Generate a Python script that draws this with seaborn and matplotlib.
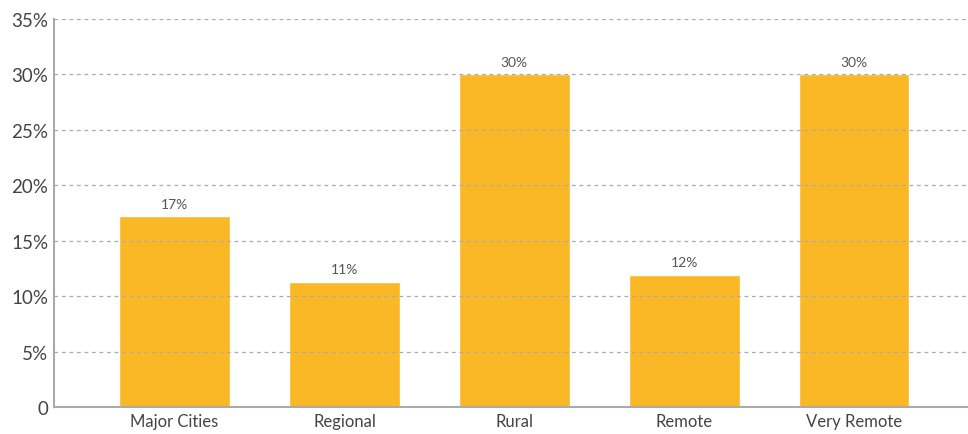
import numpy as np
import pandas as pd
import seaborn as sns
import matplotlib.pyplot as plt
from matplotlib.ticker import FuncFormatter

categories = ["Major Cities", "Regional", "Rural", "Remote", "Very Remote"]
values = [17.2, 11.3, 30.0, 11.9, 30.0]
labels = ["17%", "11%", "30%", "12%", "30%"]

sns.set_style("white")
plt.rcParams["font.family"] = ["Lato", "DejaVu Sans"]

df = pd.DataFrame({"area": categories, "pct": values})

fig = plt.figure(figsize=(9.68, 4.35), dpi=100)
ax = fig.add_axes([0.0558, 0.062, 0.944, 0.892])

sns.barplot(data=df, x="area", y="pct", color="#FBB826", saturation=1,
            width=0.653, ax=ax, zorder=1)

# value labels above each bar
for i, (v, lab) in enumerate(zip(values, labels)):
    ax.text(i, v + 0.6, lab, ha="center", va="bottom", fontsize=10,
            color="#555555")

ax.set_ylim(0, 35)
ax.set_xlim(-0.71, 4.67)
ax.set_yticks(np.arange(0, 36, 5))
ax.yaxis.set_major_formatter(FuncFormatter(lambda y, _: "0" if y == 0 else f"{y:.0f}%"))
ax.grid(axis="y", linestyle=(0, (3, 3)), color="#aaaaaa", linewidth=0.9, zorder=3)
ax.set_axisbelow(False)

ax.set_xlabel("")
ax.set_ylabel("")
sns.despine(ax=ax)
for s in ["left", "bottom"]:
    ax.spines[s].set_color("#aaaaaa")
    ax.spines[s].set_linewidth(1.5)
    ax.spines[s].set_zorder(4)

ax.tick_params(axis="y", length=0, labelsize=13.5, labelcolor="#444444", pad=4)
ax.tick_params(axis="x", length=0, labelsize=12, labelcolor="#444444", pad=4)

plt.savefig("out.png", dpi=100)
plt.close()
